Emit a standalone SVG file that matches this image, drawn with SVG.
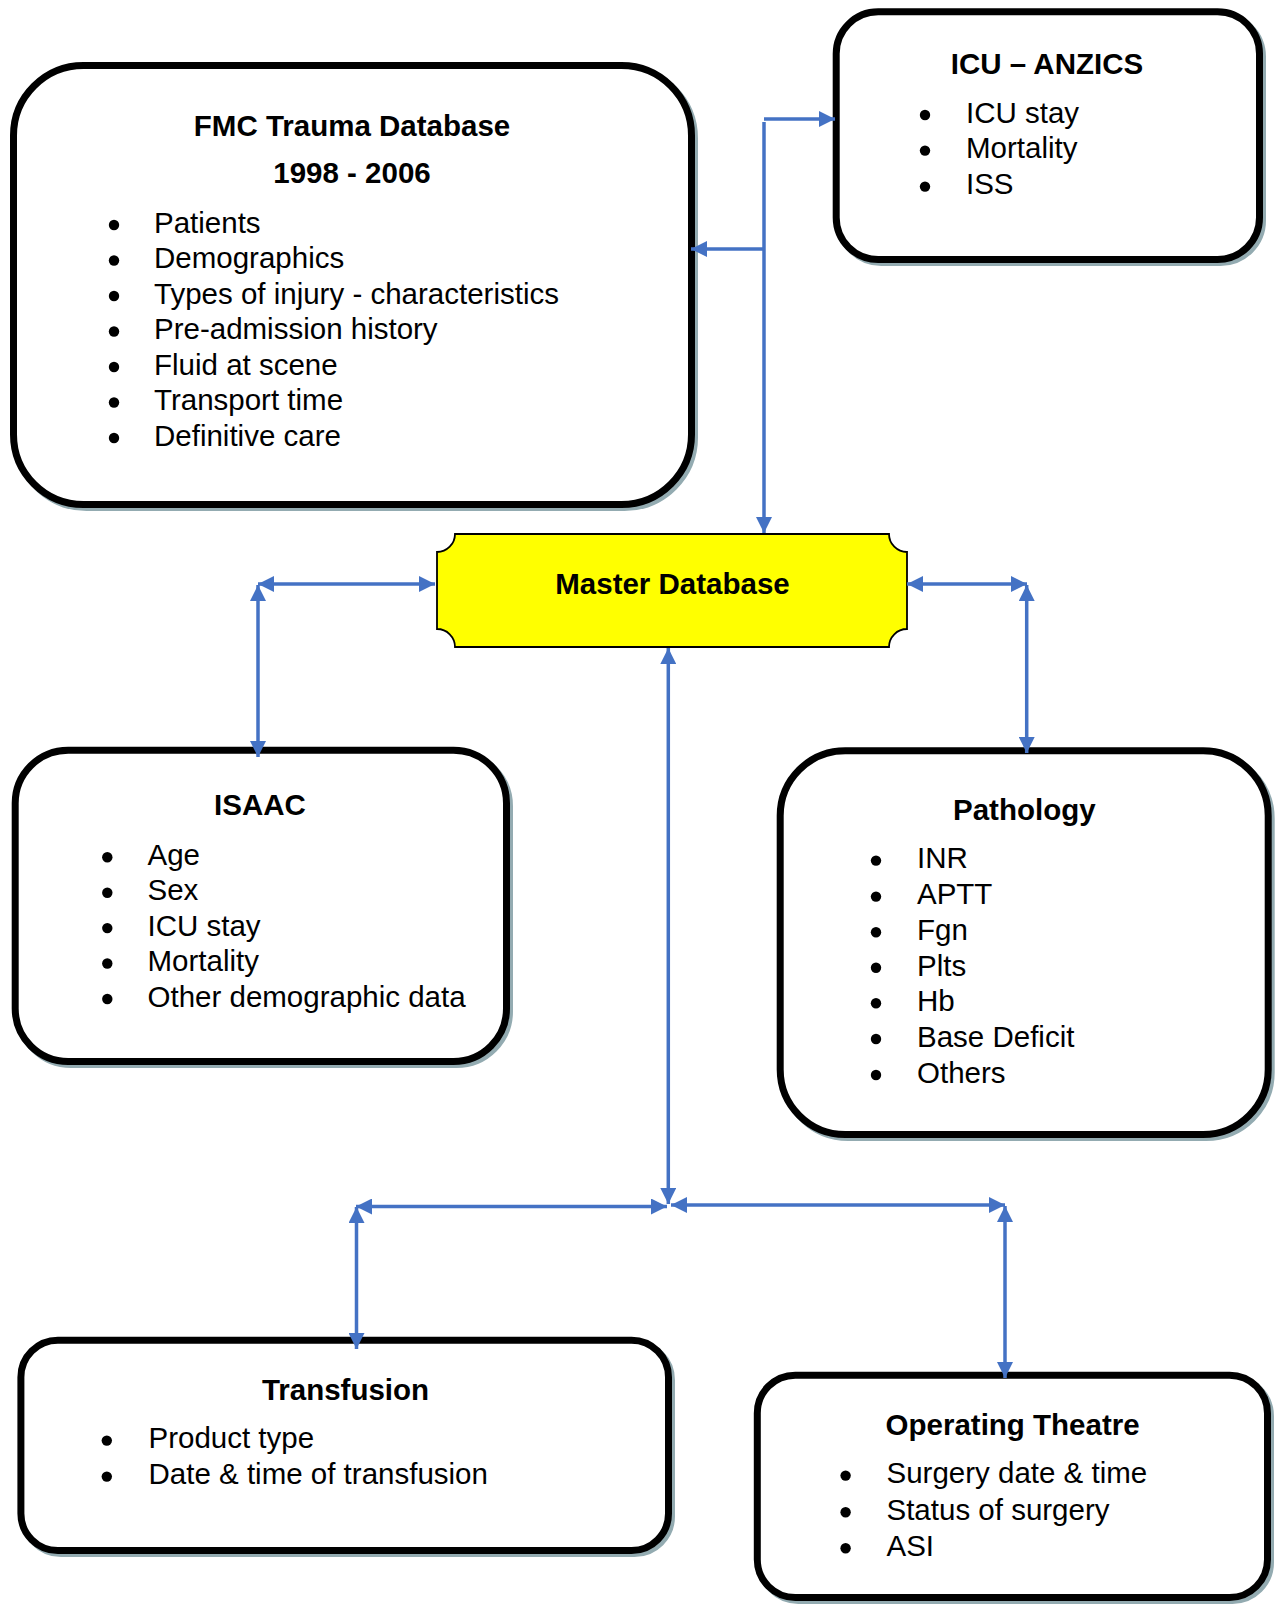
<svg xmlns="http://www.w3.org/2000/svg" width="1280" height="1604" viewBox="0 0 1280 1604">
<style>
.box{fill:#fff;stroke:#000;stroke-width:7}
.shd{fill:none;stroke:#93abb1;stroke-width:7}
.t{font-family:"Liberation Sans",Arial,sans-serif;font-size:29.5px;fill:#000}
.b{font-weight:bold;text-anchor:middle}
.dot{fill:#000}
.c{fill:none;stroke:#4472C4;stroke-width:3.5}
</style>
<defs>
<marker id="ah" markerUnits="userSpaceOnUse" markerWidth="16" markerHeight="16" viewBox="0 0 15 15" refX="15" refY="7.5" orient="auto-start-reverse">
<path d="M0,0 L15,7.5 L0,15 z" fill="#4472C4"/>
</marker>
</defs>
<rect width="1280" height="1604" fill="#fff"/>

<g id="fmc">
<rect class="shd" x="16.5" y="68.5" width="678" height="439" rx="70"/>
<rect class="box" x="13.5" y="65.5" width="678" height="439" rx="70"/>
<text class="t b" x="352" y="136">FMC Trauma Database</text>
<text class="t b" x="352" y="182.7">1998 - 2006</text>
<g class="dot">
<circle cx="114" cy="225" r="5.2"/><circle cx="114" cy="260.5" r="5.2"/><circle cx="114" cy="296" r="5.2"/><circle cx="114" cy="331.5" r="5.2"/><circle cx="114" cy="367" r="5.2"/><circle cx="114" cy="402.5" r="5.2"/><circle cx="114" cy="438" r="5.2"/>
</g>
<g class="t">
<text x="154" y="232.7">Patients</text>
<text x="154" y="268.2">Demographics</text>
<text x="154" y="303.7">Types of injury - characteristics</text>
<text x="154" y="339.2">Pre-admission history</text>
<text x="154" y="374.7">Fluid at scene</text>
<text x="154" y="410.2">Transport time</text>
<text x="154" y="445.7">Definitive care</text>
</g>
</g>

<g id="icu">
<rect class="shd" x="839.2" y="14.8" width="423.3" height="247.7" rx="42"/>
<rect class="box" x="836.2" y="11.8" width="423.3" height="247.7" rx="42"/>
<text class="t b" x="1047" y="74">ICU – ANZICS</text>
<g class="dot">
<circle cx="925" cy="115" r="5.2"/><circle cx="925" cy="150.6" r="5.2"/><circle cx="925" cy="186.6" r="5.2"/>
</g>
<g class="t">
<text x="966" y="122.7">ICU stay</text>
<text x="966" y="158.3">Mortality</text>
<text x="966" y="194.3">ISS</text>
</g>
</g>

<g id="master">
<path d="M455,534 L889,534 A18,18 0 0 0 907,552 L907,629 A18,18 0 0 0 889,647 L455,647 A18,18 0 0 0 437,629 L437,552 A18,18 0 0 0 455,534 Z" fill="#ffff00" stroke="#000" stroke-width="1.8"/>
<text class="t b" x="672.5" y="594">Master Database</text>
</g>

<g id="isaac">
<rect class="shd" x="18.2" y="753.2" width="491.3" height="311.3" rx="53"/>
<rect class="box" x="15.2" y="750.2" width="491.3" height="311.3" rx="53"/>
<text class="t b" x="260" y="815">ISAAC</text>
<g class="dot">
<circle cx="107.3" cy="857.3" r="5.2"/><circle cx="107.3" cy="892.7" r="5.2"/><circle cx="107.3" cy="928.1" r="5.2"/><circle cx="107.3" cy="963.5" r="5.2"/><circle cx="107.3" cy="999" r="5.2"/>
</g>
<g class="t">
<text x="147.5" y="865">Age</text>
<text x="147.5" y="900.4">Sex</text>
<text x="147.5" y="935.8">ICU stay</text>
<text x="147.5" y="971.2">Mortality</text>
<text x="147.5" y="1006.7">Other demographic data</text>
</g>
</g>

<g id="pathology">
<rect class="shd" x="783.2" y="753.8" width="488" height="383.7" rx="65"/>
<rect class="box" x="780.2" y="750.8" width="488" height="383.7" rx="65"/>
<text class="t b" x="1024.3" y="820">Pathology</text>
<g class="dot">
<circle cx="876" cy="860.6" r="5.2"/><circle cx="876" cy="896.6" r="5.2"/><circle cx="876" cy="932.3" r="5.2"/><circle cx="876" cy="967.8" r="5.2"/><circle cx="876" cy="1003.3" r="5.2"/><circle cx="876" cy="1039" r="5.2"/><circle cx="876" cy="1075" r="5.2"/>
</g>
<g class="t">
<text x="917" y="868.3">INR</text>
<text x="917" y="904.3">APTT</text>
<text x="917" y="940">Fgn</text>
<text x="917" y="975.5">Plts</text>
<text x="917" y="1011">Hb</text>
<text x="917" y="1046.7">Base Deficit</text>
<text x="917" y="1082.7">Others</text>
</g>
</g>

<g id="transfusion">
<rect class="shd" x="23.9" y="1343.2" width="647.6" height="210.3" rx="37"/>
<rect class="box" x="20.9" y="1340.2" width="647.6" height="210.3" rx="37"/>
<text class="t b" x="345.5" y="1400">Transfusion</text>
<g class="dot">
<circle cx="106.8" cy="1440.6" r="5.2"/><circle cx="106.8" cy="1476.6" r="5.2"/>
</g>
<g class="t">
<text x="148.5" y="1448.3">Product type</text>
<text x="148.5" y="1484.3">Date &amp; time of transfusion</text>
</g>
</g>

<g id="operating-theatre">
<rect class="shd" x="760.3" y="1378.2" width="510.2" height="222.3" rx="38"/>
<rect class="box" x="757.3" y="1375.2" width="510.2" height="222.3" rx="38"/>
<text class="t b" x="1012.6" y="1435">Operating Theatre</text>
<g class="dot">
<circle cx="845.6" cy="1475.6" r="5.2"/><circle cx="845.6" cy="1512.3" r="5.2"/><circle cx="845.6" cy="1548.3" r="5.2"/>
</g>
<g class="t">
<text x="886.5" y="1483.3">Surgery date &amp; time</text>
<text x="886.5" y="1520">Status of surgery</text>
<text x="886.5" y="1556">ASI</text>
</g>
</g>

<g id="connectors">
<path class="c" d="M764,119 L835,119" marker-end="url(#ah)"/>
<path class="c" d="M764,122 L764,533" marker-end="url(#ah)"/>
<path class="c" d="M764,249 L691,249" marker-end="url(#ah)"/>
<path class="c" d="M258,584 L435,584" marker-start="url(#ah)" marker-end="url(#ah)"/>
<path class="c" d="M258,585 L258,757" marker-start="url(#ah)" marker-end="url(#ah)"/>
<path class="c" d="M907,584 L1027,584" marker-start="url(#ah)" marker-end="url(#ah)"/>
<path class="c" d="M1026.7,585 L1026.7,753" marker-start="url(#ah)" marker-end="url(#ah)"/>
<path class="c" d="M668.3,648 L668.3,1204" marker-start="url(#ah)" marker-end="url(#ah)"/>
<path class="c" d="M356,1206.5 L667,1206.5" marker-start="url(#ah)" marker-end="url(#ah)"/>
<path class="c" d="M356.5,1207 L356.5,1349" marker-start="url(#ah)" marker-end="url(#ah)"/>
<path class="c" d="M671,1205 L1005,1205" marker-start="url(#ah)" marker-end="url(#ah)"/>
<path class="c" d="M1005,1206 L1005,1378" marker-start="url(#ah)" marker-end="url(#ah)"/>
</g>
</svg>
